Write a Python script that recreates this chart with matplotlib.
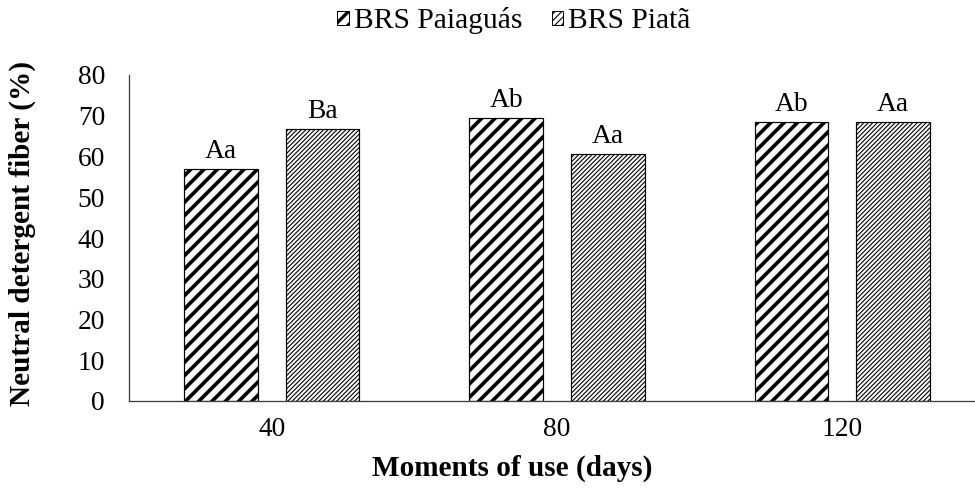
import matplotlib
matplotlib.use("Agg")
import matplotlib.pyplot as plt
import matplotlib.patches as mpatches
import numpy as np

# ---- data ----
categories = ["40", "80", "120"]
series_names = ["BRS Paiaguás", "BRS Piatã"]
paiaguas = [56.9, 69.5, 68.5]
piata = [66.7, 60.6, 68.4]
paiaguas_labels = ["Aa", "Ab", "Ab"]
piata_labels = ["Ba", "Aa", "Aa"]
yticks = [0, 10, 20, 30, 40, 50, 60, 70, 80]

DPI = 80
W, H = 975, 496
def px2pt(p):
    return p * 72.0 / DPI

plt.rcParams['font.family'] = ['Liberation Serif', 'DejaVu Serif']
FS = px2pt(27.5)
FS_LEG = px2pt(29.5)
FS_TITLE = px2pt(29.3)

fig = plt.figure(figsize=(W / DPI, H / DPI), dpi=DPI)
ax = fig.add_axes([129 / W, 95 / H, (985 - 129) / W, (401 - 75) / H])

x = np.arange(len(categories))
bw = 0.259
off = 0.178

hatch_specs = [("//", 3.3), ("//////", 1.0)]
containers = []
for vals, sign, (hatch, lw) in zip([paiaguas, piata], [-1, 1], hatch_specs):
    with plt.rc_context({'hatch.linewidth': lw}):
        bars = ax.bar(x + sign * off, vals, width=bw, color='white',
                      edgecolor='black', linewidth=px2pt(1.2), hatch=hatch)
    for b in bars:
        if hasattr(b, 'set_hatch_linewidth'):
            b.set_hatch_linewidth(lw)
    containers.append(bars)

for bars, labels in zip(containers, [paiaguas_labels, piata_labels]):
    for b, lab in zip(bars, labels):
        ax.annotate(lab, (b.get_x() + b.get_width() / 2, b.get_height()),
                    xytext=(0, px2pt(5)), textcoords='offset points',
                    ha='center', va='bottom', fontsize=FS)

ax.set_xlim(-0.5, 2.5)
ax.set_ylim(0, 80)
ax.set_yticks(yticks)
ax.set_yticklabels([str(t) for t in yticks], fontsize=FS)
ax.set_xticks(x)
ax.set_xticklabels(categories, fontsize=FS)
ax.tick_params(axis='y', length=0, pad=px2pt(24))
ax.tick_params(axis='x', length=0, pad=px2pt(16))
for s in ['top', 'right']:
    ax.spines[s].set_visible(False)
for s in ['left', 'bottom']:
    ax.spines[s].set_color('#404040')
    ax.spines[s].set_linewidth(px2pt(1.3))

fig.text(22 / W, 1 - 233 / H, "Neutral detergent fiber (%)", rotation=90,
         ha='center', va='center', fontsize=FS_TITLE, fontweight='bold')
fig.text(512 / W, 1 - 468 / H, "Moments of use (days)",
         ha='center', va='center', fontsize=FS_TITLE, fontweight='bold')

leg_specs = [("//", 3.0), ("////", 1.0)]
handles = []
for (hatch, lw), name in zip(leg_specs, series_names):
    p = mpatches.Patch(facecolor='white', edgecolor='black', hatch=hatch,
                       linewidth=px2pt(1), label=name)
    handles.append(p)
leg = fig.legend(handles=handles, loc='center', bbox_to_anchor=(514 / W, 1 - 21 / H),
                 ncol=2, frameon=False, fontsize=FS_LEG, handlelength=0.38,
                 handleheight=0.38, handletextpad=0.18, columnspacing=1.0,
                 borderpad=0, borderaxespad=0)
for lp, (hatch, lw) in zip(leg.get_patches(), leg_specs):
    if hasattr(lp, 'set_hatch_linewidth'):
        lp.set_hatch_linewidth(lw)

fig.savefig("out.png", dpi=DPI, facecolor='white')
